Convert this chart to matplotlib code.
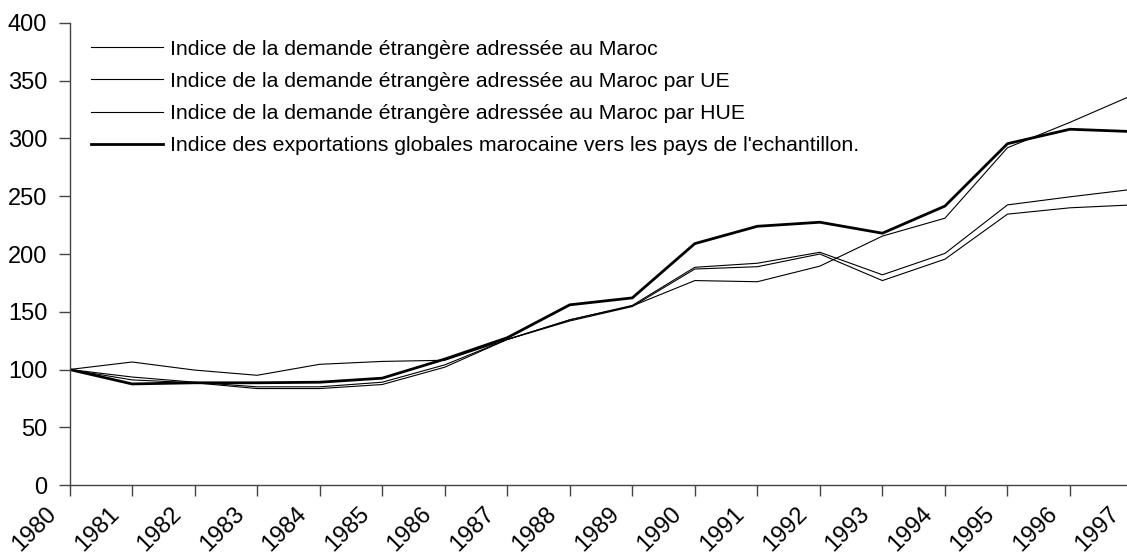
import matplotlib
matplotlib.use("Agg")
import matplotlib.pyplot as plt
from matplotlib.transforms import ScaledTranslation

plt.rcParams["font.family"] = ["Liberation Sans", "DejaVu Sans"]

# Data
years = list(range(1980, 1998))
year_labels = [str(y) for y in years]

demande_maroc = [100, 93.5, 89, 85, 85, 89, 104, 126, 143, 155.5,
                 188.5, 192, 201.5, 182, 200.5, 242.5, 249.5, 256]
demande_ue = [100, 91, 88.5, 83.5, 83.5, 87, 102, 126, 142, 154.5,
              187, 189, 200, 177, 195.5, 234.5, 240, 242.5]
demande_hue = [100, 106.5, 99.5, 95, 104.5, 107, 108, 126, 143, 155,
               177, 176, 189.5, 215.5, 231, 292, 314, 337.5]
exportations = [100, 87.5, 88.5, 88.5, 89, 92.5, 109, 127.5, 156, 162,
                209, 224, 227.5, 218, 241.5, 295.5, 308, 306]

labels = [
    "Indice de la demande étrangère adressée au Maroc",
    "Indice de la demande étrangère adressée au Maroc par UE",
    "Indice de la demande étrangère adressée au Maroc par HUE",
    "Indice des exportations globales marocaine vers les pays de l'echantillon.",
]

fig = plt.figure(figsize=(11.27, 5.58), dpi=100)
# the plot area runs a little past the right edge, as in the original
ax = fig.add_axes([0.0617, 0.1308, 0.9432, 0.828])

ax.plot(years, demande_maroc, color="black", lw=0.8, label=labels[0])
ax.plot(years, demande_ue, color="black", lw=0.8, label=labels[1])
ax.plot(years, demande_hue, color="black", lw=0.8, label=labels[2])
ax.plot(years, exportations, color="black", lw=2.0, label=labels[3])

ax.set_xlim(1980, 1997)
ax.set_ylim(0, 400)
ax.set_yticks(range(0, 401, 50))
ax.set_xticks(years)
ax.set_xticklabels(year_labels, rotation=45, ha="right", va="top",
                   rotation_mode="anchor")

for side in ["top", "right"]:
    ax.spines[side].set_visible(False)
for side in ["left", "bottom"]:
    ax.spines[side].set_color("#444444")
    ax.spines[side].set_linewidth(1.0)

ax.tick_params(axis="y", direction="out", length=8, width=1, color="#444444",
               labelsize=17, pad=8)
ax.tick_params(axis="x", direction="out", length=8, width=1, color="#444444",
               labelsize=17, pad=4.5)

# rotated year labels sit left of their tick (after tick_params,
# which resets the label transform)
shift = ScaledTranslation(-24 / 100, 0, fig.dpi_scale_trans)
for lbl in ax.get_xticklabels():
    lbl.set_transform(lbl.get_transform() + shift)

leg = ax.legend(loc="upper left", bbox_to_anchor=(0.0807, 0.929),
                bbox_transform=fig.transFigure, frameon=False, fontsize=15.3,
                handlelength=3.4, handletextpad=0.33, labelspacing=0.62,
                borderaxespad=0, borderpad=0)

fig.savefig("out.png", dpi=100)
